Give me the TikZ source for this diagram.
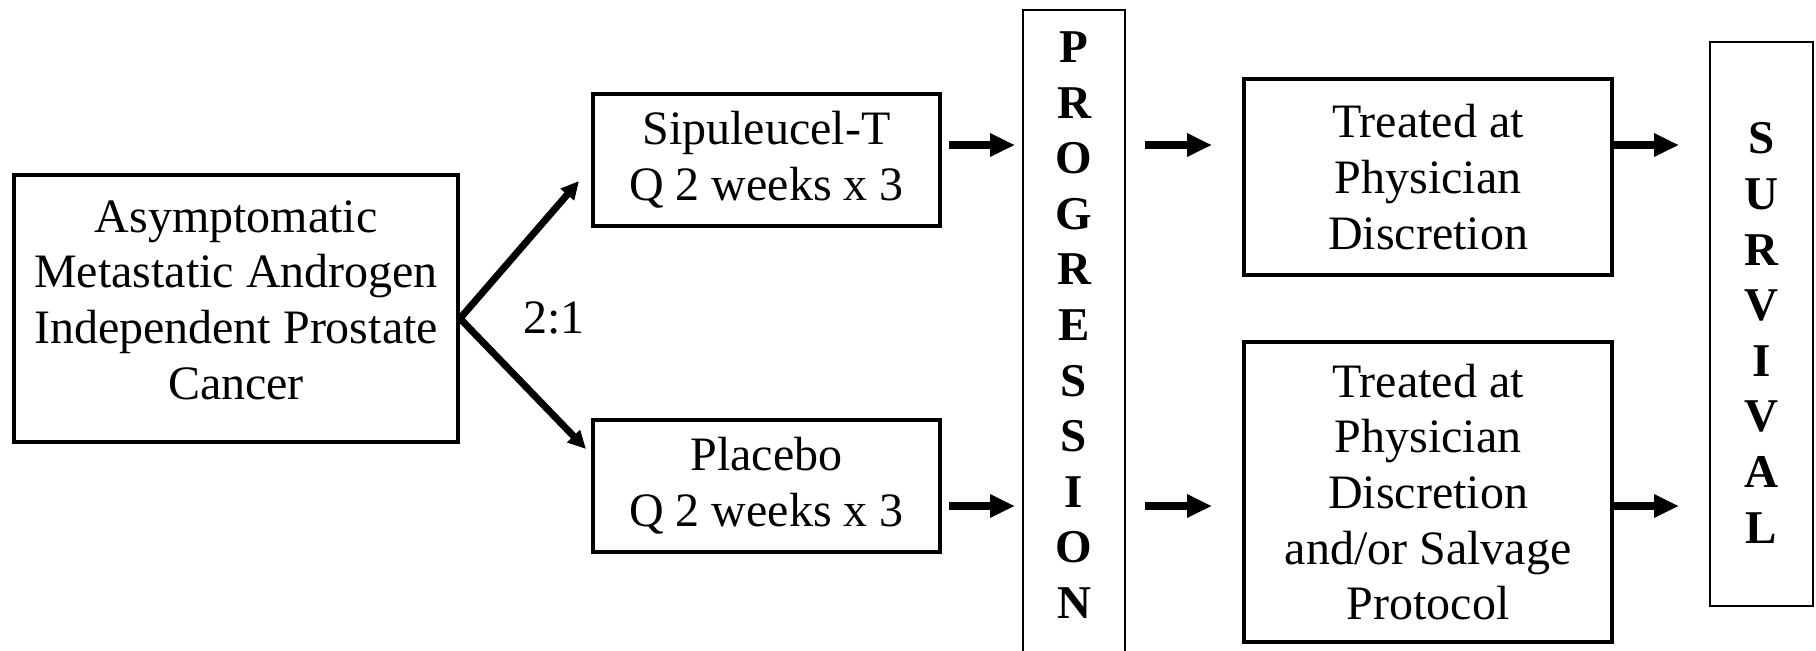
\documentclass[tikz,border=0pt]{standalone}
\usepackage{fontspec}
\setmainfont{Liberation Serif}
\usetikzlibrary{arrows.meta,calc}
\begin{document}
\begin{tikzpicture}[x=0.5pt,y=-0.5pt,
  box/.style={draw,line width=2pt,align=center,inner sep=0pt,font=\fontsize{24pt}{27.8pt}\selectfont},
  tallbox/.style={draw,line width=1pt,inner sep=0pt},
  vtext/.style={align=center,inner sep=0pt,font=\fontsize{23.5pt}{27.8pt}\selectfont\bfseries},
  lbl/.style={inner sep=0pt,align=center,font=\fontsize{24pt}{27.8pt}\selectfont},
  arr/.style={line width=4pt,-{Triangle[length=12.5pt,width=11pt]}},
  fork/.style={line width=3.5pt,-{Triangle[length=9pt,width=8.5pt]}}]
\useasboundingbox (0,0) rectangle (1816,650);
\clip (0,0) rectangle (1816,650);

\node[box,minimum width=222pt,minimum height=133.5pt] (main) at (236,308.5) {};
\node[lbl] (maintxt) at (236,300)
  {Asymptomatic\\Metastatic Androgen\\Independent Prostate\\Cancer};
\node[box,minimum width=173.5pt,minimum height=66pt] (sip) at (766.5,160)
  {Sipuleucel-T\\Q 2 weeks x 3};
\node[box,minimum width=173.5pt,minimum height=66pt] (plac) at (766.5,486)
  {Placebo\\Q 2 weeks x 3};
\node[tallbox,minimum width=51pt,minimum height=335pt] (prog) at (1074,345) {};
\node[vtext] (progtxt) at (1074,325) {P\\R\\O\\G\\R\\E\\S\\S\\I\\O\\N};
\node[box,minimum width=184pt,minimum height=98pt] (tr1) at (1428,177)
  {Treated at\\Physician\\Discretion};
\node[box,minimum width=184pt,minimum height=150pt] (tr2) at (1428,492)
  {Treated at\\Physician\\Discretion\\and/or Salvage\\Protocol};
\node[tallbox,minimum width=51.5pt,minimum height=282pt] (surv) at (1761.5,324) {};
\node[vtext] (survtxt) at (1761.5,333) {S\\U\\R\\V\\I\\V\\A\\L};
\node[lbl] (ratio) at (554,318) {2:1};

\coordinate (rowA) at (0,145);
\coordinate (rowB) at (0,506);
\coordinate (apex) at ($(main.east)+(0,10)$);
\coordinate (tipA) at ($(sip.west)+(-12,21)$);
\coordinate (tipB) at ($(plac.west)+(-5,-37)$);

\draw[fork] (apex) -- (tipA);
\draw[fork] (apex) -- (tipB);

\draw[arr] ($(sip.east|-rowA)+(7,0)$) -- ($(prog.west|-rowA)+(-7,0)$);
\draw[arr] ($(plac.east|-rowB)+(7,0)$) -- ($(prog.west|-rowB)+(-7,0)$);
\draw[arr] ($(prog.east|-rowA)+(19,0)$) -- ($(tr1.west|-rowA)+(-30,0)$);
\draw[arr] ($(prog.east|-rowB)+(19,0)$) -- ($(tr2.west|-rowB)+(-30,0)$);
\draw[arr] (tr1.east|-rowA) -- ($(surv.west|-rowA)+(-30,0)$);
\draw[arr] (tr2.east|-rowB) -- ($(surv.west|-rowB)+(-30,0)$);
\end{tikzpicture}
\end{document}
